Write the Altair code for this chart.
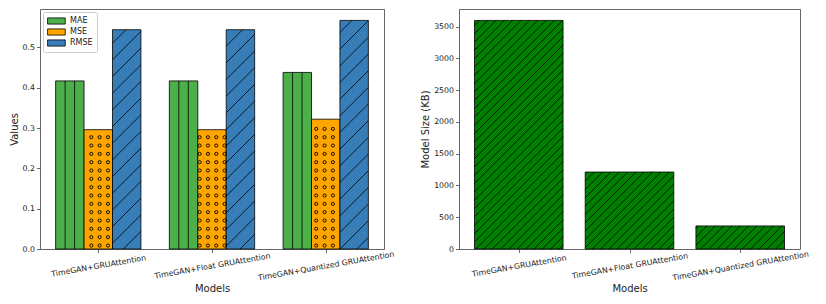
import json
import math
import altair as alt
import pandas as pd

# ---------------- data ----------------
models = ["TimeGAN+GRUAttention", "TimeGAN+Float GRUAttention", "TimeGAN+Quantized GRUAttention"]
metrics = ["MAE", "MSE", "RMSE"]
mae = [0.417, 0.417, 0.438]
mse = [0.296, 0.296, 0.322]
rmse = [0.544, 0.544, 0.567]
size_kb = [3596, 1211, 363]

metric_colors = ["#4daf4a", "#ffa500", "#377eb8"]
size_color = "#008000"

# ---------------- layout ----------------
FONT = "DejaVu Sans"
W1, H1 = 344, 240
W2, H2 = 341, 240
BW1 = 0.25                      # grouped bar width (data units)
OFF1 = [-0.25, 0.0, 0.25]
BW2 = 0.8
XD1 = [-0.5125, 2.5125]
XD2 = [-0.54, 2.54]
YMAX1 = 1.05 * max(mae + mse + rmse)
YMAX2 = 1.05 * max(size_kb)
SX1, SY1 = W1 / (XD1[1] - XD1[0]), H1 / YMAX1
SX2, SY2 = W2 / (XD2[1] - XD2[0]), H2 / YMAX2

label_expr = json.dumps(models) + "[datum.value]"

# ---------------- tables ----------------
rows = []
for i, m in enumerate(models):
    for j, (met, vals) in enumerate(zip(metrics, [mae, mse, rmse])):
        c = i + OFF1[j]
        rows.append({"model": m, "metric": met, "x0": c - BW1 / 2, "x1": c + BW1 / 2,
                     "y0": 0.0, "y1": vals[i]})
bars1 = pd.DataFrame(rows)

rows = []
for i, m in enumerate(models):
    rows.append({"model": m, "x0": i - BW2 / 2, "x1": i + BW2 / 2, "y0": 0.0, "y1": size_kb[i]})
bars2 = pd.DataFrame(rows)


def diag(df, sx, sy, xd0, spacing):
    """'/' hatch segments (45 deg in pixels) clipped to each bar, returned in data units."""
    out = []
    for _, r in df.iterrows():
        X0, X1 = (r.x0 - xd0) * sx, (r.x1 - xd0) * sx
        Yv = r.y1 * sy
        k0 = math.floor((X0 - Yv) / spacing) - 1
        k1 = math.ceil(X1 / spacing) + 1
        for k in range(k0, k1 + 1):
            c = k * spacing
            ylo, yhi = max(0.0, X0 - c), min(Yv, X1 - c)
            if yhi - ylo > 0.3:
                out.append({"x0": (ylo + c) / sx + xd0, "x1": (yhi + c) / sx + xd0,
                            "y0": ylo / sy, "y1": yhi / sy})
    return pd.DataFrame(out)


mae_bars = bars1[bars1.metric == "MAE"]
mse_bars = bars1[bars1.metric == "MSE"]
rmse_bars = bars1[bars1.metric == "RMSE"]

vl = []
for _, r in mae_bars.iterrows():
    w = r.x1 - r.x0
    for f in (1 / 3, 2 / 3):
        vl.append({"x0": r.x0 + w * f, "y0": 0.0, "y1": r.y1})
vlines = pd.DataFrame(vl)

dots = []
for _, r in mse_bars.iterrows():
    X0, X1 = (r.x0 - XD1[0]) * SX1, (r.x1 - XD1[0]) * SX1
    Yv = r.y1 * SY1
    for k in range(0, 60):
        X = 1.34 + 8.33 * k
        if X < X0 + 1.2 or X > X1 - 1.2:
            continue
        for j in range(0, 40):
            Y = 3.5 + 8.33 * j
            if Y > Yv - 2:
                break
            dots.append({"x0": X / SX1 + XD1[0], "y0": Y / SY1})
dots = pd.DataFrame(dots)

diag1 = diag(rmse_bars, SX1, SY1, XD1[0], 16.67)
diag2 = diag(bars2, SX2, SY2, XD2[0], 8.33)

# ---------------- left panel ----------------
xs1 = alt.Scale(domain=XD1, nice=False, zero=False)
ys1 = alt.Scale(domain=[0, YMAX1], nice=False)
xax1 = alt.Axis(values=[0, 1, 2], labelExpr=label_expr, title="Models")
yax1 = alt.Axis(values=[0, 0.1, 0.2, 0.3, 0.4, 0.5], format=".1f", title="Values")

l_bars = alt.Chart(bars1).mark_rect(stroke="black", strokeWidth=0.8).encode(
    x=alt.X("x0:Q", scale=xs1, axis=xax1),
    x2="x1:Q",
    y=alt.Y("y1:Q", scale=ys1, axis=yax1),
    y2="y0:Q",
    color=alt.Color("metric:N", scale=alt.Scale(domain=metrics, range=metric_colors),
                    legend=alt.Legend(title=None, orient="top-left", offset=3)),
)
l_vl = alt.Chart(vlines).mark_rule(color="black", strokeWidth=0.8).encode(
    x=alt.X("x0:Q", scale=xs1, axis=xax1),
    y=alt.Y("y0:Q", scale=ys1, axis=yax1),
    y2="y1:Q",
)
l_dots = alt.Chart(dots).mark_point(shape="circle", filled=False, color="black",
                                    size=10, strokeWidth=0.9, opacity=1).encode(
    x=alt.X("x0:Q", scale=xs1, axis=xax1),
    y=alt.Y("y0:Q", scale=ys1, axis=yax1),
)
l_diag = alt.Chart(diag1).mark_rule(color="black", strokeWidth=0.8).encode(
    x=alt.X("x0:Q", scale=xs1, axis=xax1),
    x2="x1:Q",
    y=alt.Y("y0:Q", scale=ys1, axis=yax1),
    y2="y1:Q",
)
left = alt.layer(l_bars, l_vl, l_dots, l_diag).properties(width=W1, height=H1)

# ---------------- right panel ----------------
xs2 = alt.Scale(domain=XD2, nice=False, zero=False)
ys2 = alt.Scale(domain=[0, YMAX2], nice=False)
xax2 = alt.Axis(values=[0, 1, 2], labelExpr=label_expr, title="Models")
yax2 = alt.Axis(values=[0, 500, 1000, 1500, 2000, 2500, 3000, 3500], format="d",
                title="Model Size (KB)")

r_bars = alt.Chart(bars2).mark_rect(fill=size_color, stroke="black", strokeWidth=0.8).encode(
    x=alt.X("x0:Q", scale=xs2, axis=xax2),
    x2="x1:Q",
    y=alt.Y("y1:Q", scale=ys2, axis=yax2),
    y2="y0:Q",
)
r_diag = alt.Chart(diag2).mark_rule(color="black", strokeWidth=0.8).encode(
    x=alt.X("x0:Q", scale=xs2, axis=xax2),
    x2="x1:Q",
    y=alt.Y("y0:Q", scale=ys2, axis=yax2),
    y2="y1:Q",
)
right = alt.layer(r_bars, r_diag).properties(width=W2, height=H2)

chart = alt.hconcat(left, right, spacing=25).properties(
    padding={"left": 0, "top": 0, "right": 0, "bottom": 0}
).configure(font=FONT).configure_view(
    stroke="#666", strokeWidth=1
).configure_axis(
    labelFont=FONT, labelFontSize=7.8, labelColor="#222",
    titleFont=FONT, titleFontSize=10, titleFontWeight="normal", titleColor="#222",
    tickSize=3.5, tickColor="#444", tickWidth=0.8, domain=False, grid=False, labelPadding=2,
    labelOverlap=False,
).configure_axisX(
    labelAngle=350, labelAlign="center", labelBaseline="middle", labelPadding=13.5,
    titlePadding=2,
).configure_axisY(
    titlePadding=3,
).configure_legend(
    labelFont=FONT, labelFontSize=8, labelColor="#222",
    symbolType="M-1,-0.7H3V0.7H-1Z", symbolSize=78,
    symbolStrokeColor="black", symbolStrokeWidth=0.8, symbolOpacity=1,
    fillColor="white", strokeColor="#ccc", cornerRadius=2, padding=4,
    rowPadding=1, labelOffset=13,
)

chart.save("out.html", embed_options={"renderer": "svg", "actions": False})
